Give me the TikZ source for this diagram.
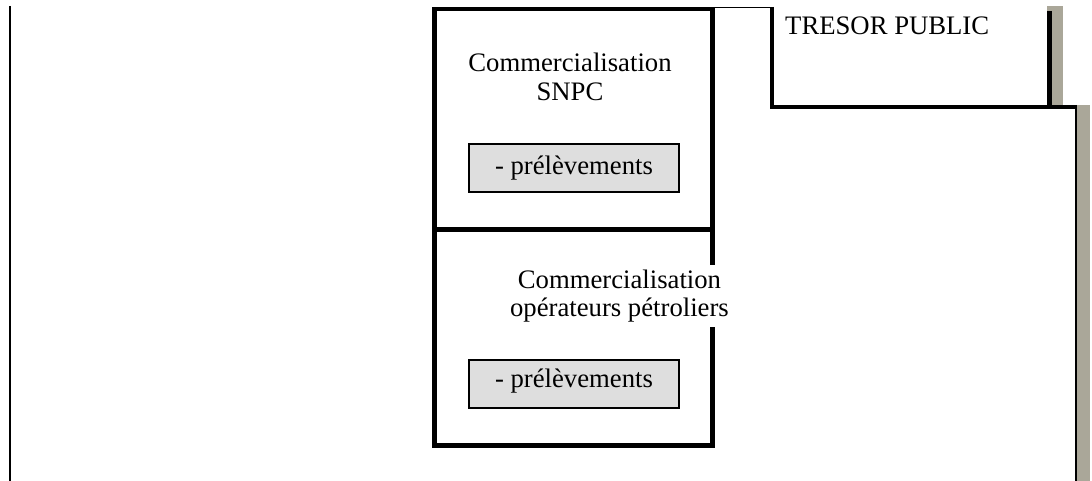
\documentclass[tikz,border=0pt]{standalone}
\usepackage{fontspec}
\setmainfont{Liberation Serif}
\usetikzlibrary{calc}
\definecolor{shadowgray}{RGB}{170,167,153}
\definecolor{boxfill}{RGB}{222,222,222}
\begin{document}
\begin{tikzpicture}[x=1pt,y=-1pt,
  every node/.style={font=\fontsize{26.7}{28.5}\selectfont, inner sep=0pt},
  frame/.style={draw, line width=4.5pt, minimum width=278pt},
  prel/.style={draw, line width=2pt, fill=boxfill, minimum width=210pt, minimum height=48pt},
  thick line/.style={line width=4.5pt},
  thin line/.style={line width=2pt},
  hair line/.style={line width=1.5pt},
  shadow bar/.style={fill=shadowgray}]
\useasboundingbox (0,0) rectangle (1092,481);
\fill[white] (0,0) rectangle (1092,481);

% left margin line
\coordinate (lt) at (10,6);
\coordinate (lb) at (10,481);
\draw[thin line] (lt) -- (lb);

% frames
\node[frame, minimum height=220.5pt] (snpc) at (573.5,119.25) {};
\node[frame, minimum height=216pt] (oper) at (573.5,337.5) {};

% SNPC label
\node[align=center] (snpctxt) at (570,77) {Commercialisation\\SNPC};

% prelevement boxes
\node[prel] (prel1) at (574,168) {};
\node[anchor=base] (prel1txt) at ($(prel1.center)+(0,7)$) {- prélèvements};
\node[prel] (prel2) at (574,384) {};
\node[anchor=base] (prel2txt) at ($(prel2.center)+(0,3)$) {- prélèvements};

% operateurs label (white background covering frame edge)
\node[fill=white, align=center, minimum height=62pt, anchor=east] (opertxt) at (729,296) {Commercialisation\\opérateurs pétroliers};

% Tresor public
\coordinate (tl) at (772,7);
\coordinate (tb) at (772,107);
\coordinate (te) at (1076,107);
\coordinate (rt) at (1049.5,11);
\coordinate (rb) at (1049.5,107);
\coordinate (st) at (1076,105);
\coordinate (sb) at (1076,481);
\fill[shadow bar] (1047,6) rectangle (1063,105);
\fill[shadow bar] (1077,105) rectangle (1090,481);
\draw[thick line] (tl) -- (tb) -- (te);
\draw[thick line] (rt) -- (rb);
\draw[thin line] (st) -- (sb);
\draw[hair line] (snpc.north east |- 0,7.5) -- (tl |- 0,7.5);
\node[anchor=base west] (tresor) at (785,35) {TRESOR PUBLIC};
\end{tikzpicture}
\end{document}
